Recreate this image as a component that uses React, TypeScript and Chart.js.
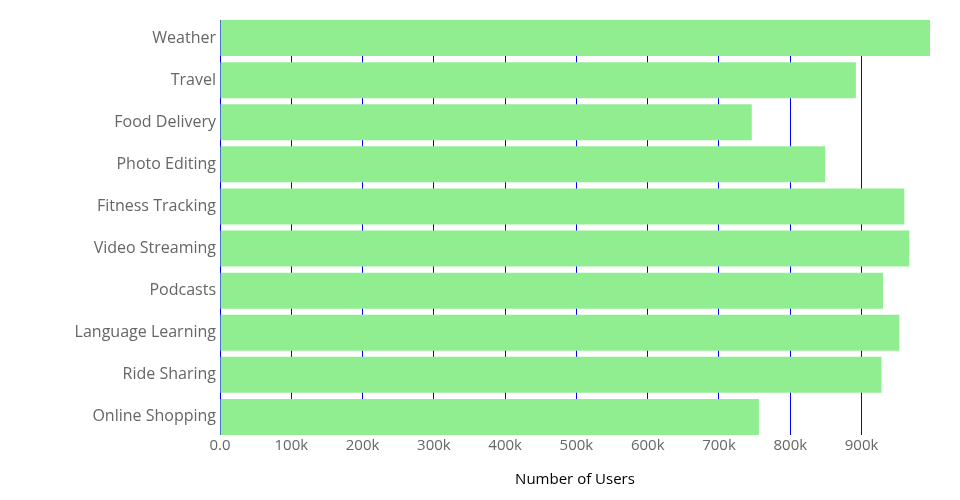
import React, { useEffect, useRef } from "react";
import { Chart, registerables } from "chart.js";

Chart.register(...registerables);

const categories: string[] = [
  "Weather",
  "Travel",
  "Food Delivery",
  "Photo Editing",
  "Fitness Tracking",
  "Video Streaming",
  "Podcasts",
  "Language Learning",
  "Ride Sharing",
  "Online Shopping",
];

const users: number[] = [996000, 892000, 746000, 849000, 960000, 967000, 930000, 953000, 928000, 756000];

const tickValues: number[] = [0, 100000, 200000, 300000, 400000, 500000, 600000, 700000, 800000, 900000];
const axisMax = 996000;
const xTitle = "Number of Users";

export default function App() {
  const ref = useRef<HTMLCanvasElement | null>(null);

  useEffect(() => {
    if (!ref.current) return;
    const font = "'Open Sans', 'Noto Sans', sans-serif";
    const points = users.map((v, i) => ({ x: v, y: i }));
    const chart = new Chart(ref.current, {
      type: "bar",
      data: {
        datasets: [
          {
            label: "Users",
            data: points,
            backgroundColor: "#90EE90",
            borderWidth: 0,
            barPercentage: 0.855,
            categoryPercentage: 1,
          },
        ],
      },
      options: {
        indexAxis: "y",
        animation: false,
        responsive: false,
        maintainAspectRatio: false,
        layout: { padding: { top: 20, right: 30, left: 0, bottom: 11 } },
        plugins: {
          legend: { display: false },
          tooltip: { enabled: false },
        },
        scales: {
          x: {
            type: "linear",
            min: 0,
            max: axisMax,
            afterBuildTicks: (axis: any) => {
              axis.ticks = tickValues.map((v) => ({ value: v }));
            },
            ticks: {
              color: "#666666",
              font: { family: font, size: 15 },
              padding: 2,
              maxRotation: 0,
              autoSkip: false,
              callback: (v: any) => (Number(v) === 0 ? "0.0" : Number(v) / 1000 + "k"),
            },
            grid: { color: "#0000ff", lineWidth: 1, drawTicks: false },
            border: { display: false },
            title: {
              display: true,
              text: xTitle,
              color: "#000000",
              font: { family: font, size: 15 },
              padding: { top: 14, bottom: 0 },
            },
          },
          y: {
            type: "linear",
            reverse: true,
            offset: false,
            min: -0.43,
            max: categories.length - 1 + 0.43,
            afterBuildTicks: (axis: any) => {
              axis.ticks = categories.map((_, i) => ({ value: i }));
            },
            afterFit: (axis: any) => {
              axis.width = 220;
            },
            ticks: {
              color: "#666666",
              font: { family: font, size: 16 },
              padding: 4,
              autoSkip: false,
              callback: (v: any) => categories[Number(v)] ?? "",
            },
            grid: { display: false, drawTicks: false, tickLength: 0, offset: false },
            border: { display: false },
          },
        },
      },
    });
    return () => chart.destroy();
  }, []);

  return (
    <div style={{ position: "fixed", left: 0, top: 0, width: 960, height: 500, background: "#fff" }}>
      <canvas ref={ref} width={960} height={500} style={{ width: 960, height: 500 }} />
    </div>
  );
}
